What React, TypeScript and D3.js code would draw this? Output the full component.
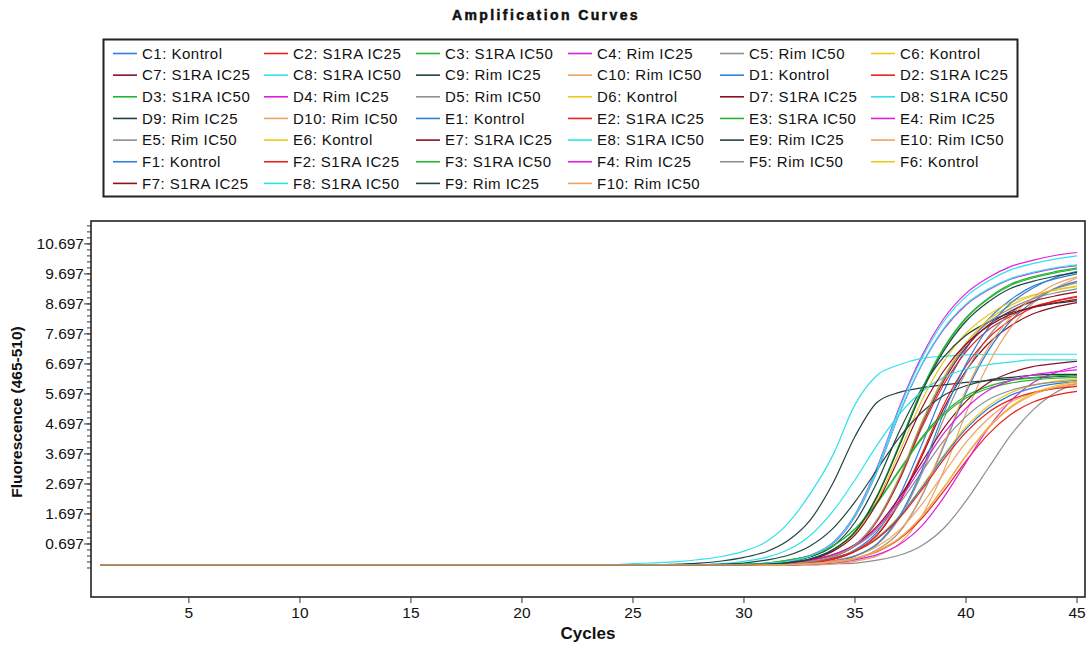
import React from "react";
import * as d3 from "d3";

// ---------- data ----------
const cycles = [1,2,3,4,5,6,7,8,9,10,11,12,13,14,15,16,17,18,19,20,21,22,23,24,25,26,27,28,29,30,31,32,33,34,35,36,37,38,39,40,41,42,43,44,45];

const C1 = [0,0,0,0,0,0,0,0,0,0, 0,0,0,0,0,0,0,0,0,0, 0,0,0,0,0,0,0,0,0,0, 0, 0.03,0.08,0.20,0.50,1.10,2.30,3.99,5.79,7.19,8.18,8.83,9.28,9.53,9.70];
const C2 = [0,0,0,0,0,0,0,0,0,0, 0,0,0,0,0,0,0,0,0,0, 0,0,0,0,0,0,0,0,0,0, 0, 0.05,0.11,0.27,0.64,1.46,2.82,4.55,6.01,7.10,7.83,8.28,8.60,8.78,8.92];
const C3 = [0,0,0,0,0,0,0,0,0,0, 0,0,0,0,0,0,0,0,0,0, 0,0,0,0,0,0,0,0,0,0, 0.03,0.08,0.20,0.50,1.10,2.30,4.00,5.81,7.21,8.21,8.86,9.31,9.56,9.73,9.86];
const C4 = [0,0,0,0,0,0,0,0,0,0, 0,0,0,0,0,0,0,0,0,0, 0,0,0,0,0,0,0,0,0,0, 0.05,0.13,0.32,0.74,1.68,3.26,5.26,6.94,8.21,9.05,9.57,9.94,10.15,10.31,10.41];
const C5 = [0,0,0,0,0,0,0,0,0,0, 0,0,0,0,0,0,0,0,0,0, 0,0,0,0,0,0,0,0,0,0, 0,0,0, 0.03,0.06,0.16,0.32,0.64,1.22,2.13,3.22,4.31,5.15,5.73,6.05];
const C6 = [0,0,0,0,0,0,0,0,0,0, 0,0,0,0,0,0,0,0,0,0, 0,0,0,0,0,0,0,0,0,0, 0.03,0.08,0.19,0.47,1.04,2.16,3.76,5.46,6.78,7.72,8.33,8.75,8.99,9.15,9.27];
const C7 = [0,0,0,0,0,0,0,0,0,0, 0,0,0,0,0,0,0,0,0,0, 0,0,0,0,0,0,0,0,0,0, 0, 0.03,0.07,0.18,0.45,0.99,2.07,3.60,5.21,6.47,7.37,7.96,8.36,8.59,8.74];
const C8 = [0,0,0,0,0,0,0,0,0,0, 0,0,0,0,0,0,0,0,0,0, 0,0,0,0, 0.04,0.07,0.11,0.18,0.28,0.46,0.77,1.40,2.39,3.65,5.34,6.32,6.67,6.88,6.95,7.00,7.02,7.02,7.02,7.02,7.02];
const C9 = [0,0,0,0,0,0,0,0,0,0, 0,0,0,0,0,0,0,0,0,0, 0,0,0,0,0,0, 0.03,0.06,0.13,0.25,0.44,0.82,1.51,2.71,4.28,5.42,5.75,5.90,6.00,6.08,6.14,6.19,6.23,6.27,6.30];
const C10 = [0,0,0,0,0,0,0,0,0,0, 0,0,0,0,0,0,0,0,0,0, 0,0,0,0,0,0,0,0,0,0, 0,0,0, 0.05,0.12,0.30,0.71,1.62,3.14,5.06,6.68,7.89,8.70,9.21,9.56];

const D1 = [0,0,0,0,0,0,0,0,0,0, 0,0,0,0,0,0,0,0,0,0, 0,0,0,0,0,0,0,0,0,0, 0,0, 0.03,0.08,0.20,0.50,1.09,2.28,3.96,5.74,7.13,8.12,8.76,9.21,9.45];
const D2 = [0,0,0,0,0,0,0,0,0,0, 0,0,0,0,0,0,0,0,0,0, 0,0,0,0,0,0,0,0,0,0, 0, 0.01,0.04,0.10,0.22,0.44,0.86,1.54,2.46,3.46,4.35,5.00,5.42,5.65,5.78];
const D3 = [0,0,0,0,0,0,0,0,0,0, 0,0,0,0,0,0,0,0,0,0, 0,0,0,0,0,0,0,0,0, 0.03,0.06,0.16,0.32,0.63,1.20,2.09,3.17,4.24,5.06,5.63,5.95,6.14,6.24,6.30,6.33];
const D4 = [0,0,0,0,0,0,0,0,0,0, 0,0,0,0,0,0,0,0,0,0, 0,0,0,0,0,0,0,0,0,0, 0,0, 0.03,0.07,0.17,0.34,0.68,1.29,2.25,3.41,4.56,5.45,6.06,6.40,6.61];
const D5 = [0,0,0,0,0,0,0,0,0,0, 0,0,0,0,0,0,0,0,0,0, 0,0,0,0,0,0,0,0,0,0, 0,0, 0.05,0.12,0.29,0.68,1.56,3.02,4.87,6.43,7.60,8.38,8.86,9.20,9.40];
const D6 = [0,0,0,0,0,0,0,0,0,0, 0,0,0,0,0,0,0,0,0,0, 0,0,0,0,0,0,0,0,0,0, 0.01,0.04,0.11,0.23,0.47,0.91,1.63,2.60,3.66,4.60,5.29,5.73,5.98,6.12,6.20];
const D7 = [0,0,0,0,0,0,0,0,0,0, 0,0,0,0,0,0,0,0,0,0, 0,0,0,0,0,0,0,0,0,0, 0, 0.05,0.11,0.28,0.65,1.49,2.88,4.65,6.13,7.25,7.99,8.45,8.78,8.96,9.10];
const D8 = [0,0,0,0,0,0,0,0,0,0, 0,0,0,0,0,0,0,0,0,0, 0,0,0,0,0,0,0,0,0,0, 0.05,0.12,0.31,0.73,1.66,3.22,5.20,6.86,8.11,8.94,9.46,9.83,10.04,10.19,10.30];
const D9 = [0,0,0,0,0,0,0,0,0,0, 0,0,0,0,0,0,0,0,0,0, 0,0,0,0,0,0,0,0,0,0, 0.04,0.11,0.27,0.62,1.42,2.76,4.45,5.87,6.93,7.65,8.09,8.40,8.58,8.71,8.80];
const D10 = [0,0,0,0,0,0,0,0,0,0, 0,0,0,0,0,0,0,0,0,0, 0,0,0,0,0,0,0,0,0,0, 0, 0.02,0.06,0.15,0.30,0.61,1.16,2.01,3.05,4.08,4.87,5.42,5.72,5.91,6.00];

const E1 = [0,0,0,0,0,0,0,0,0,0, 0,0,0,0,0,0,0,0,0,0, 0,0,0,0,0,0,0,0,0,0, 0.01,0.04,0.10,0.23,0.46,0.89,1.60,2.56,3.61,4.53,5.21,5.65,5.89,6.03,6.11];
const E2 = [0,0,0,0,0,0,0,0,0,0, 0,0,0,0,0,0,0,0,0,0, 0,0,0,0,0,0,0,0,0,0, 0, 0.03,0.07,0.18,0.46,1.01,2.12,3.68,5.34,6.63,7.55,8.15,8.57,8.80,8.95];
const E3 = [0,0,0,0,0,0,0,0,0,0, 0,0,0,0,0,0,0,0,0,0, 0,0,0,0,0,0,0,0,0,0, 0.03,0.08,0.20,0.50,1.11,2.31,4.02,5.83,7.24,8.24,8.89,9.35,9.60,9.77,9.90];
const E4 = [0,0,0,0,0,0,0,0,0,0, 0,0,0,0,0,0,0,0,0,0, 0,0,0,0,0,0,0,0,0,0, 0.05,0.12,0.30,0.70,1.61,3.12,5.04,6.65,7.85,8.66,9.16,9.52,9.72,9.87,9.97];
const E5 = [0,0,0,0,0,0,0,0,0,0, 0,0,0,0,0,0,0,0,0,0, 0,0,0,0,0,0,0,0,0,0, 0.02,0.06,0.15,0.31,0.62,1.17,2.04,3.09,4.14,4.94,5.50,5.81,5.99,6.09,6.15];
const E6 = [0,0,0,0,0,0,0,0,0,0, 0,0,0,0,0,0,0,0,0,0, 0,0,0,0,0,0,0,0,0,0, 0, 0.05,0.11,0.28,0.66,1.52,2.94,4.75,6.26,7.40,8.16,8.64,8.97,9.16,9.30];
const E7 = [0,0,0,0,0,0,0,0,0,0, 0,0,0,0,0,0,0,0,0,0, 0,0,0,0,0,0,0,0,0,0, 0.03,0.07,0.17,0.34,0.68,1.29,2.25,3.41,4.56,5.45,6.06,6.40,6.61,6.71,6.78];
const E8 = [0,0,0,0,0,0,0,0,0,0, 0,0,0,0,0,0,0,0,0,0, 0,0,0,0,0,0,0, 0.01,0.04,0.12,0.25,0.51,0.99,1.78,2.83,4.00,5.02,5.77,6.25,6.52,6.67,6.76,6.83,6.83,6.83];
const E9 = [0,0,0,0,0,0,0,0,0,0, 0,0,0,0,0,0,0,0,0,0, 0,0,0,0,0,0,0,0, 0.03,0.06,0.16,0.32,0.64,1.21,2.10,3.18,4.25,5.08,5.65,5.97,6.16,6.25,6.32,6.35,6.35];
const E10 = [0,0,0,0,0,0,0,0,0,0, 0,0,0,0,0,0,0,0,0,0, 0,0,0,0,0,0,0,0,0,0, 0,0, 0.03,0.08,0.20,0.50,1.11,2.31,4.02,5.83,7.24,8.24,8.89,9.35,9.60];

const F1 = [0,0,0,0,0,0,0,0,0,0, 0,0,0,0,0,0,0,0,0,0, 0,0,0,0,0,0,0,0,0,0, 0,0, 0.05,0.12,0.30,0.71,1.62,3.14,5.07,6.69,7.90,8.71,9.22,9.57,9.78];
const F2 = [0,0,0,0,0,0,0,0,0,0, 0,0,0,0,0,0,0,0,0,0, 0,0,0,0,0,0,0,0,0,0, 0.01,0.04,0.10,0.22,0.45,0.87,1.56,2.49,3.52,4.42,5.08,5.50,5.74,5.87,5.95];
const F3 = [0,0,0,0,0,0,0,0,0,0, 0,0,0,0,0,0,0,0,0,0, 0,0,0,0,0,0,0,0,0, 0.03,0.06,0.16,0.31,0.63,1.19,2.06,3.13,4.19,5.00,5.56,5.88,6.06,6.16,6.22,6.25];
const F4 = [0,0,0,0,0,0,0,0,0,0, 0,0,0,0,0,0,0,0,0,0, 0,0,0,0,0,0,0,0,0,0, 0.03,0.07,0.16,0.33,0.65,1.24,2.15,3.27,4.38,5.22,5.81,6.14,6.33,6.43,6.50];
const F5 = [0,0,0,0,0,0,0,0,0,0, 0,0,0,0,0,0,0,0,0,0, 0,0,0,0,0,0,0,0,0,0, 0, 0.05,0.11,0.28,0.66,1.50,2.91,4.70,6.20,7.32,8.08,8.54,8.87,9.06,9.20];
const F6 = [0,0,0,0,0,0,0,0,0,0, 0,0,0,0,0,0,0,0,0,0, 0,0,0,0,0,0,0,0,0,0, 0, 0.01,0.04,0.11,0.23,0.47,0.90,1.62,2.59,3.65,4.59,5.27,5.71,5.96,6.10];
const F7 = [0,0,0,0,0,0,0,0,0,0, 0,0,0,0,0,0,0,0,0,0, 0,0,0,0,0,0,0,0,0,0, 0.03,0.07,0.18,0.45,0.99,2.07,3.59,5.21,6.47,7.36,7.95,8.35,8.58,8.73,8.85];
const F8 = [0,0,0,0,0,0,0,0,0,0, 0,0,0,0,0,0,0,0,0,0, 0,0,0,0,0,0,0,0,0,0, 0.05,0.12,0.30,0.71,1.62,3.13,5.05,6.67,7.88,8.69,9.19,9.54,9.75,9.90,10.00];
const F9 = [0,0,0,0,0,0,0,0,0,0, 0,0,0,0,0,0,0,0,0,0, 0,0,0,0,0,0,0,0,0,0, 0.03,0.08,0.20,0.50,1.09,2.28,3.96,5.74,7.13,8.12,8.76,9.21,9.45,9.62,9.75];
const F10 = [0,0,0,0,0,0,0,0,0,0, 0,0,0,0,0,0,0,0,0,0, 0,0,0,0,0,0,0,0,0,0, 0, 0.01,0.04,0.11,0.23,0.46,0.89,1.61,2.57,3.62,4.55,5.23,5.66,5.91,6.05];

const wells = ["C1","C2","C3","C4","C5","C6","C7","C8","C9","C10",
  "D1","D2","D3","D4","D5","D6","D7","D8","D9","D10",
  "E1","E2","E3","E4","E5","E6","E7","E8","E9","E10",
  "F1","F2","F3","F4","F5","F6","F7","F8","F9","F10"];
const treatments = ["Kontrol","S1RA IC25","S1RA IC50","Rim IC25","Rim IC50","Kontrol","S1RA IC25","S1RA IC50","Rim IC25","Rim IC50"];
const palette = ["#2f80d8","#e8231e","#26b434","#e01ee0","#8e8e8e","#ecc81a","#8c1024","#2ee2ea","#1f4444","#f0a260"];
const seriesValues = [C1,C2,C3,C4,C5,C6,C7,C8,C9,C10,D1,D2,D3,D4,D5,D6,D7,D8,D9,D10,E1,E2,E3,E4,E5,E6,E7,E8,E9,E10,F1,F2,F3,F4,F5,F6,F7,F8,F9,F10];

const yTickValues = [0.697,1.697,2.697,3.697,4.697,5.697,6.697,7.697,8.697,9.697,10.697];
const xTickValues = [5,10,15,20,25,30,35,40,45];

const titleText = "Amplification Curves";
const xTitle = "Cycles";
const yTitle = "Fluorescence (465-510)";

// ---------- layout ----------
const W = 1092, H = 649;
const P = { left: 91, top: 221, right: 1085, bottom: 597 };
const FONT = "'Liberation Sans', Arial, sans-serif";

export default function App() {
  const x = d3.scaleLinear().domain([0.59, 45.36]).range([P.left, P.right]);
  const y = d3.scaleLinear().domain([-1.07, 11.46]).range([P.bottom, P.top]);
  const line = d3.line<number>()
    .x((_, i) => x(cycles[i]))
    .y((d) => y(d))
    .curve(d3.curveMonotoneX);

  const minorTicks = d3.range(-0.103, 11.45, 0.2).filter(v => y(v) >= P.top && y(v) <= P.bottom);

  const series = wells.map((w, i) => ({
    name: `${w}: ${treatments[i % 10]}`,
    color: palette[i % 10],
    values: seriesValues[i],
  }));

  const legendCols = 6;
  const colX = [113, 264, 416, 568, 720, 871];
  const rowY0 = 53.5, rowH = 21.65;

  return (
    <svg width={W} height={H} style={{ position: "fixed", left: 0, top: 0, background: "#fff" }}>
      <rect x={0} y={0} width={W} height={H} fill="#fff" />
      <text x={546} y={20} textAnchor="middle" fontFamily={FONT} fontWeight="bold" fontSize={14} letterSpacing={2.4} fill="#111" stroke="#111" strokeWidth={0.5}>{titleText}</text>

      {/* legend */}
      <rect x={103.5} y={39.5} width={914} height={157} fill="#fff" stroke="#222" strokeWidth={2} />
      {series.map((s, i) => {
        const col = i % legendCols;
        const row = Math.floor(i / legendCols);
        const lx = colX[col];
        const ly = rowY0 + row * rowH;
        return (
          <g key={s.name}>
            <line x1={lx} x2={lx + 24} y1={ly} y2={ly} stroke={s.color} strokeWidth={1.6} />
            <text x={lx + 29} y={ly + 5.2} fontFamily={FONT} fontSize={15} letterSpacing={0.5} fill="#111">{s.name}</text>
          </g>
        );
      })}

      {/* plot */}
      <defs>
        <clipPath id="plotclip">
          <rect x={P.left} y={P.top} width={P.right - P.left} height={P.bottom - P.top} />
        </clipPath>
      </defs>
      <g clipPath="url(#plotclip)">
        {series.map((s) => (
          <path key={s.name} d={line(s.values) || ""} fill="none" stroke={s.color} strokeWidth={1.2} />
        ))}
      </g>
      <rect x={P.left} y={P.top} width={P.right - P.left} height={P.bottom - P.top} fill="none" stroke="#222" strokeWidth={1.6} />

      {/* y axis */}
      {minorTicks.map((v, i) => (
        <line key={"m" + i} x1={P.left - 4} x2={P.left} y1={y(v)} y2={y(v)} stroke="#333" strokeWidth={1} />
      ))}
      {yTickValues.map((v) => (
        <g key={"y" + v}>
          <line x1={P.left - 7} x2={P.left} y1={y(v)} y2={y(v)} stroke="#333" strokeWidth={1} />
          <text x={P.left - 7} y={y(v) + 5.3} textAnchor="end" fontFamily={FONT} fontSize={15.5} fill="#111">{v.toFixed(3)}</text>
        </g>
      ))}
      <text transform={`translate(22,${412}) rotate(-90)`} textAnchor="middle" fontFamily={FONT} fontWeight="bold" fontSize={15.5} fill="#111">{yTitle}</text>

      {/* x axis */}
      {xTickValues.map((v) => (
        <g key={"x" + v}>
          <line x1={x(v)} x2={x(v)} y1={P.bottom} y2={P.bottom + 6} stroke="#333" strokeWidth={1} />
          <text x={x(v)} y={P.bottom + 21} textAnchor="middle" fontFamily={FONT} fontSize={15.5} fill="#111">{v}</text>
        </g>
      ))}
      <text x={588} y={639} textAnchor="middle" fontFamily={FONT} fontWeight="bold" fontSize={17} fill="#111">{xTitle}</text>
    </svg>
  );
}
